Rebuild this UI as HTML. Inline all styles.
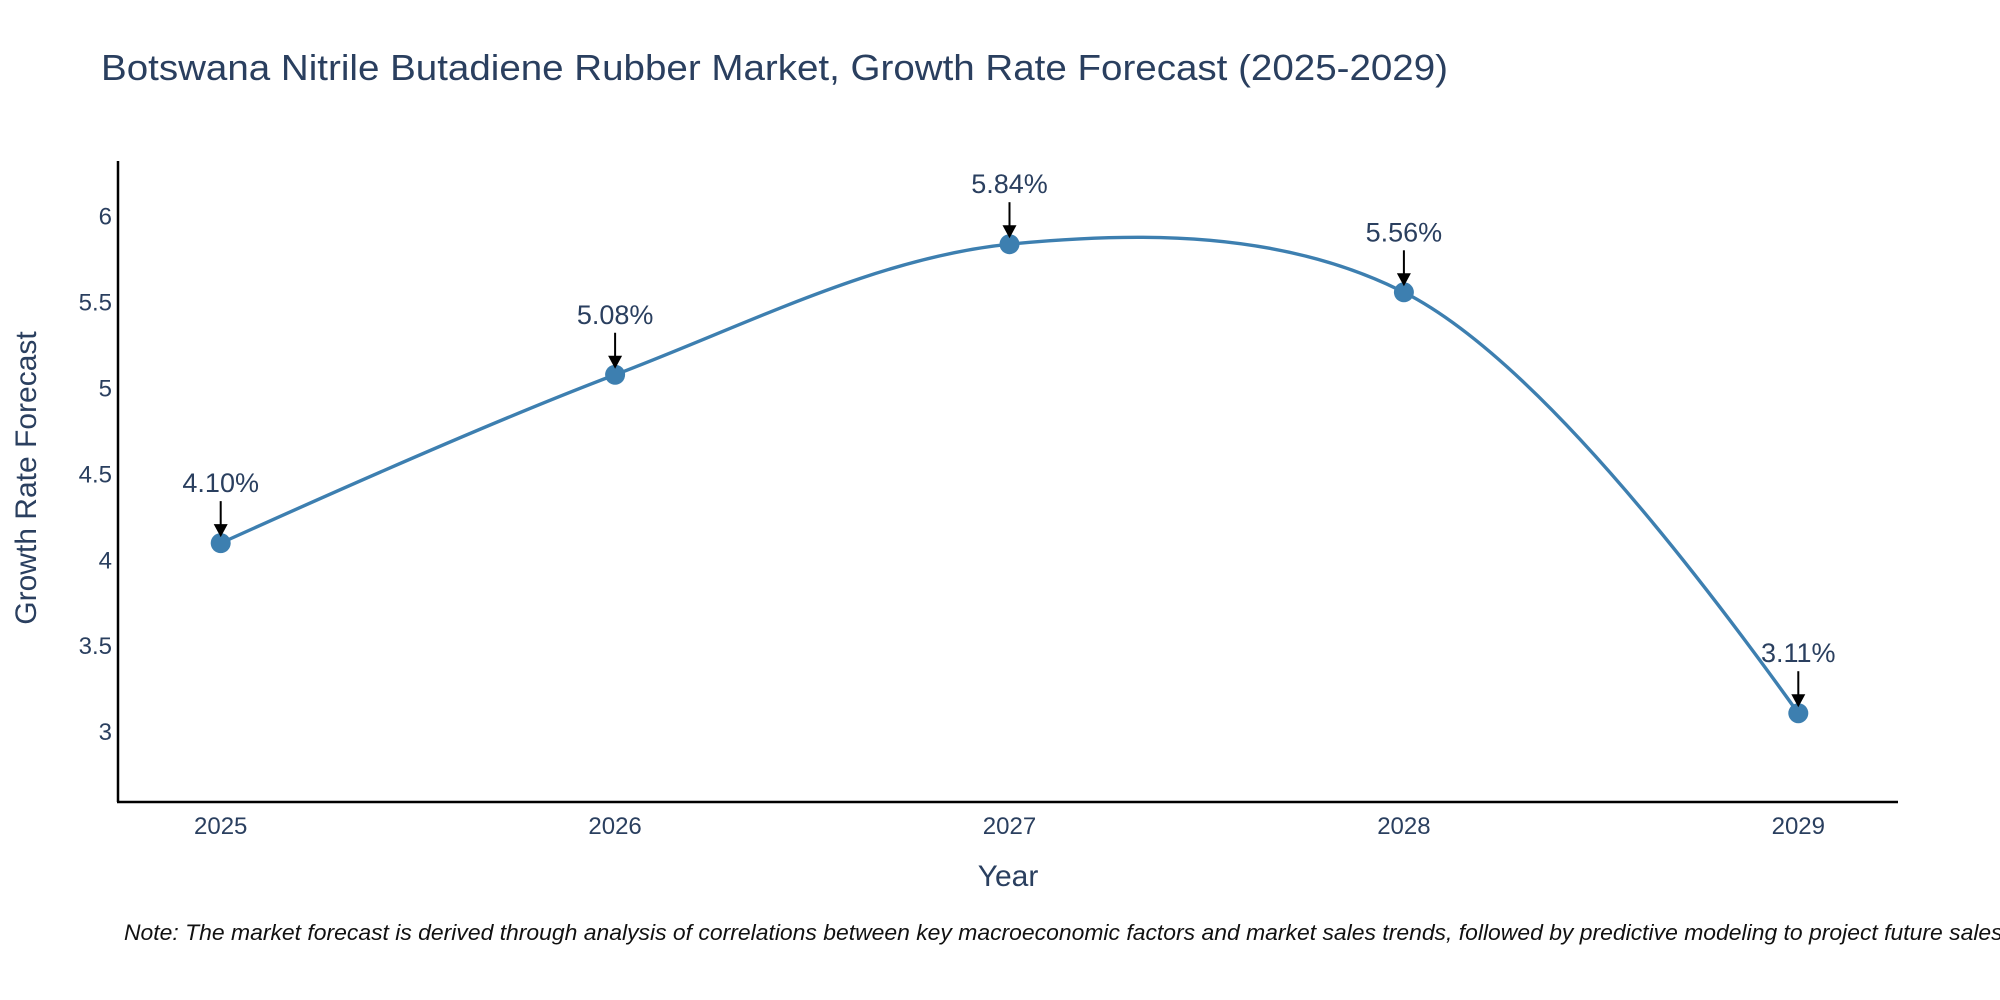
<!DOCTYPE html>
<html><head><meta charset="utf-8"><style>
body{margin:0;background:#fff;}
svg{display:block;font-family:"Liberation Sans","DejaVu Sans",sans-serif;}
</style></head><body>
<svg id="chart" width="2000" height="1000">
<text x="101" y="80" font-size="36" fill="#2a3f5f" textLength="1347" lengthAdjust="spacingAndGlyphs">Botswana Nitrile Butadiene Rubber Market, Growth Rate Forecast (2025-2029)</text>
<g id="yticks"></g>
<g id="xticks"></g>
<line x1="118" y1="161" x2="118" y2="802" stroke="#000" stroke-width="2.5"/>
<line x1="117" y1="802" x2="1898" y2="802" stroke="#000" stroke-width="2.5"/>
<text transform="translate(36,478) rotate(-90)" text-anchor="middle" font-size="30" fill="#2a3f5f">Growth Rate Forecast</text>
<text x="1008" y="886" text-anchor="middle" font-size="30" fill="#2a3f5f">Year</text>
<g id="series"></g>
<g id="annots"></g>
<text x="124" y="940" font-size="22" font-style="italic" fill="#111" textLength="1885" lengthAdjust="spacingAndGlyphs">Note: The market forecast is derived through analysis of correlations between key macroeconomic factors and market sales trends, followed by predictive modeling to project future sales.</text>
</svg>
<script>
const years = [2025, 2026, 2027, 2028, 2029];
const growthValues = [4.10, 5.08, 5.84, 5.56, 3.11];
const yTickValues = [3, 3.5, 4, 4.5, 5, 5.5, 6];
const NS = "http://www.w3.org/2000/svg";
const xScale = v => 220.7 + (v - 2025) * 394.4;
const yScale = v => 732.1 - (v - 3) * 171.8;
function mk(tag, attrs, parent){const e=document.createElementNS(NS,tag);for(const k in attrs)e.setAttribute(k,attrs[k]);parent.appendChild(e);return e;}
const yt=document.getElementById('yticks');
yTickValues.forEach(v=>{
  const t=mk('text',{x:112,y:yScale(v)+8,'text-anchor':'end','font-size':24,fill:'#2a3f5f'},yt);
  
  
  t.textContent=String(v);
});
const xt=document.getElementById('xticks');
years.forEach(v=>{
  const t=mk('text',{x:xScale(v),y:834,'text-anchor':'middle','font-size':24,fill:'#2a3f5f'},xt);
  
  
  t.textContent=String(v);
});
const pts=years.map((y,i)=>[xScale(y),yScale(growthValues[i])]);
function tangent(p0,p1,p2,s){
  const d1x=p0[0]-p1[0],d1y=p0[1]-p1[1],d2x=p2[0]-p1[0],d2y=p2[1]-p1[1];
  const d1a=Math.pow(d1x*d1x+d1y*d1y,0.25),d2a=Math.pow(d2x*d2x+d2y*d2y,0.25);
  const nx=(d2a*d2a*d1x-d1a*d1a*d2x)*s,ny=(d2a*d2a*d1y-d1a*d1a*d2y)*s;
  const den1=3*d2a*(d1a+d2a),den2=3*d1a*(d1a+d2a);
  return [[p1[0]+nx/den1,p1[1]+ny/den1],[p1[0]-nx/den2,p1[1]-ny/den2]];
}
const tg=[];for(let i=1;i<pts.length-1;i++)tg.push(tangent(pts[i-1],pts[i],pts[i+1],1));
let d=`M${pts[0]}Q${tg[0][0]} ${pts[1]}`;
for(let i=2;i<pts.length-1;i++)d+=`C${tg[i-2][1]} ${tg[i-1][0]} ${pts[i]}`;
d+=`Q${tg[tg.length-1][1]} ${pts[pts.length-1]}`;
const s=document.getElementById('series');
const path=mk('path',{d:d,fill:'none',stroke:'#3d7fb0','stroke-width':3.4},s);


const an=document.getElementById('annots');
pts.forEach((p,i)=>{
  const c=mk('circle',{cx:p[0],cy:p[1],r:10,fill:'#3d7fb0'},s);
  
  
  const l=mk('line',{x1:p[0],y1:p[1]-42,x2:p[0],y2:p[1]-18,stroke:'#000','stroke-width':2},an);
  
  
  const h=mk('polygon',{points:`${p[0]-7},${p[1]-19} ${p[0]+7},${p[1]-19} ${p[0]},${p[1]-6}`,fill:'#000'},an);
  
  
  const t=mk('text',{x:p[0],y:p[1]-51,'text-anchor':'middle','font-size':27,fill:'#2a3f5f'},an);
  
  
  t.textContent=growthValues[i].toFixed(2)+'%';
});
</script>
</body></html>
